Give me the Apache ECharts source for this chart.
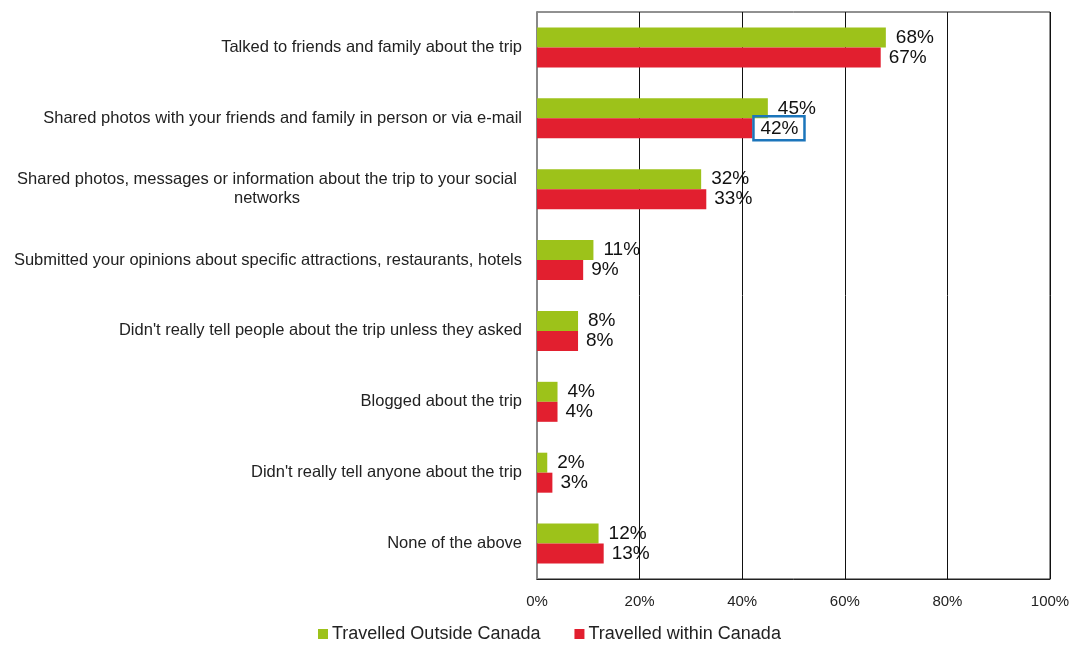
<!DOCTYPE html>
<html><head><meta charset="utf-8">
<script src="https://cdn.jsdelivr.net/npm/echarts@6/dist/echarts.min.js"></script>
<style>html,body{margin:0;padding:0;background:#fff}#c{width:1075px;height:645px}</style>
</head><body><div id="c"></div>
<script>
const categories = [
  "Talked to friends and family about the trip",
  "Shared photos with your friends and family in person or via e-mail",
  "Shared photos, messages or information about the trip to your social\nnetworks",
  "Submitted your opinions about specific attractions, restaurants, hotels",
  "Didn't really tell people about the trip unless they asked",
  "Blogged about the trip",
  "Didn't really tell anyone about the trip",
  "None of the above"
];
const outsideCanada = [68, 45, 32, 11, 8, 4, 2, 12];
const withinCanada = [67, 42, 33, 9, 8, 4, 3, 13];
const xTicks = [0, 20, 40, 60, 80, 100];
const seriesNames = ["Travelled Outside Canada", "Travelled within Canada"];

const font = "Arial, 'Liberation Sans', sans-serif";
const chart = echarts.init(document.getElementById('c'));
const withinData = withinCanada.map((v, i) => i === 1 ? {
  value: v,
  label: { borderColor: '#1b75bb', borderWidth: 2.5, padding: [4, 6, 1, 7], distance: 1 }
} : v);
chart.setOption({
  animation: false,
  textStyle: { fontFamily: font },
  grid: { left: 537, right: 25, top: 12, bottom: 66, show: true, borderColor: '#222', borderWidth: 1, containLabel: false },
  legend: {
    bottom: -3, left: 313, icon: 'rect', itemWidth: 10, itemHeight: 10, itemGap: 34,
    textStyle: { fontSize: 18, color: '#222', fontFamily: font, padding: [0, 0, 0, -1] },
    data: seriesNames
  },
  xAxis: {
    type: 'value', min: xTicks[0], max: xTicks[xTicks.length - 1], interval: 20,
    axisLine: { show: true, lineStyle: { color: '#222' } },
    axisTick: { show: false },
    splitLine: { show: true, lineStyle: { color: '#111', width: 1 } },
    axisLabel: { formatter: '{value}%', fontSize: 15, color: '#222', margin: 15, fontFamily: font }
  },
  yAxis: {
    type: 'category', data: categories, inverse: true,
    axisLine: { show: true, lineStyle: { color: '#888', width: 2 } },
    axisTick: { show: false },
    axisLabel: {
      fontSize: 16.5, color: '#222', margin: 15, fontFamily: font,
      formatter: function (v) {
        return v.indexOf('\n') >= 0 ? '{c|' + v + '}' : v;
      },
      rich: { c: { width: 500, align: 'center', fontSize: 16.5, color: '#222', lineHeight: 19, padding: [0, 5, 0, 0], fontFamily: font } }
    }
  },
  series: [
    {
      name: seriesNames[0], type: 'bar', data: outsideCanada, barWidth: 20, barGap: '0%',
      itemStyle: { color: '#9dc21a' },
      label: { show: true, position: 'right', distance: 10, formatter: '{c}%', fontSize: 19, color: '#111', fontFamily: font }
    },
    {
      name: seriesNames[1], type: 'bar', data: withinData, barWidth: 20, barGap: '0%',
      itemStyle: { color: '#e21f2f' },
      label: { show: true, position: 'right', distance: 8, formatter: '{c}%', fontSize: 19, color: '#111', fontFamily: font }
    }
  ]
});
</script></body></html>
